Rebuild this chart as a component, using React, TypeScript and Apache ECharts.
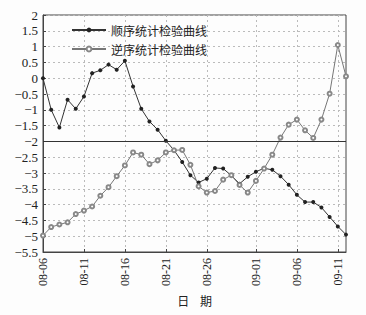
import React, { useEffect, useRef } from "react";
import * as echarts from "echarts";

const dates: string[] = [
  "08-06", "08-07", "08-08", "08-09", "08-10", "08-11", "08-12", "08-13", "08-14", "08-15",
  "08-16", "08-17", "08-18", "08-19", "08-20", "08-21", "08-22", "08-23", "08-24", "08-25",
  "08-26", "08-27", "08-28", "08-29", "08-30", "08-31", "09-01", "09-02", "09-03", "09-04",
  "09-05", "09-06", "09-07", "09-08", "09-09", "09-10", "09-11", "09-12",
];

const tickLabels: string[] = ["08-06", "08-11", "08-16", "08-21", "08-26", "09-01", "09-06", "09-11"];

const forwardUF: number[] = [
  0, -1.0, -1.56, -0.68, -0.97, -0.58, 0.16, 0.25, 0.43, 0.27,
  0.55, -0.26, -0.97, -1.37, -1.63, -1.98, -2.28, -2.65, -3.07, -3.3,
  -3.18, -2.84, -2.86, -3.08, -3.34, -3.12, -2.96, -2.85, -2.9, -3.1,
  -3.37, -3.69, -3.92, -3.92, -4.09, -4.39, -4.69, -4.95,
];

const backwardUB: number[] = [
  -4.98, -4.71, -4.63, -4.56, -4.3, -4.19, -4.06, -3.72, -3.45, -3.1,
  -2.76, -2.35, -2.42, -2.72, -2.6, -2.35, -2.28, -2.27, -2.74, -3.42,
  -3.62, -3.57, -3.21, -3.07, -3.38, -3.62, -3.25, -2.86, -2.42, -1.88,
  -1.47, -1.31, -1.65, -1.89, -1.31, -0.49, 1.05, 0.06,
];

const seriesNames: string[] = ["顺序统计检验曲线", "逆序统计检验曲线"];
const criticalValue = -2;

const serif = "'Liberation Serif', 'DejaVu Serif', serif";
const cjk = "'Noto Sans CJK SC', sans-serif";

const showTick = (_i: number, v: string) => tickLabels.includes(v);

export default function App() {
  const ref = useRef<HTMLDivElement>(null);
  useEffect(() => {
    if (!ref.current) return;
    const chart = echarts.init(ref.current, undefined, { renderer: "svg" });
    chart.setOption({
      animation: false,
      backgroundColor: "#fdfdfd",
      grid: {
        left: 43,
        right: 20,
        top: 15,
        bottom: 63,
        show: true,
        borderColor: "#444",
        borderWidth: 1,
      },
      legend: {
        orient: "vertical",
        left: 66,
        top: 19,
        itemWidth: 34,
        itemHeight: 6,
        itemGap: 7,
        textStyle: { fontFamily: cjk, fontSize: 12, color: "#222" },
        data: seriesNames,
      },
      xAxis: {
        type: "category",
        data: dates,
        boundaryGap: false,
        name: "日    期",
        nameLocation: "middle",
        nameGap: 42,
        nameTextStyle: { fontFamily: cjk, fontSize: 12, color: "#222" },
        axisLine: { onZero: false, lineStyle: { color: "#444" } },
        axisTick: { show: true, interval: showTick, inside: true, length: 3, lineStyle: { color: "#444" } },
        axisLabel: {
          interval: showTick,
          rotate: 90,
          fontFamily: serif,
          fontSize: 12,
          color: "#222",
          margin: 6,
        },
        splitLine: {
          show: true,
          interval: showTick,
          lineStyle: { color: "#bbb", type: [2, 3], width: 1 },
        },
      },
      yAxis: {
        type: "value",
        min: -5.5,
        max: 2,
        interval: 0.5,
        axisLine: { show: true, onZero: false, lineStyle: { color: "#444" } },
        axisTick: { show: true, inside: true, length: 3, lineStyle: { color: "#444" } },
        axisLabel: {
          fontFamily: serif,
          fontSize: 13,
          color: "#222",
          margin: 5,
          formatter: (v: number) => String(v).replace("-", "\u2212"),
        },
        splitLine: {
          show: true,
          lineStyle: { color: "#bbb", type: [2, 3], width: 1 },
        },
      },
      series: [
        {
          name: seriesNames[0],
          type: "line",
          data: forwardUF,
          symbol: "circle",
          symbolSize: 4,
          itemStyle: { color: "#222" },
          lineStyle: { color: "#333", width: 1 },
          markLine: {
            silent: true,
            symbol: "none",
            label: { show: false },
            lineStyle: { color: "#333", width: 1, type: "solid" },
            data: [{ yAxis: criticalValue }],
          },
        },
        {
          name: seriesNames[1],
          type: "line",
          data: backwardUB,
          symbol: "emptyCircle",
          symbolSize: 4,
          itemStyle: { color: "#888", borderColor: "#888", borderWidth: 0.8 },
          lineStyle: { color: "#777", width: 1 },
        },
      ],
    });
    return () => chart.dispose();
  }, []);
  return (
    <div
      ref={ref}
      style={{ position: "fixed", left: 0, top: 0, width: 366, height: 315 }}
    />
  );
}
